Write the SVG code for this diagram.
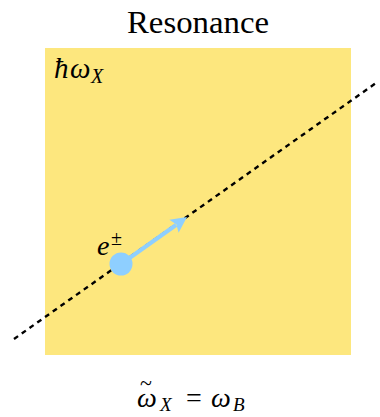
<svg xmlns="http://www.w3.org/2000/svg" width="380" height="417" viewBox="0 0 380 417">
<style>
.m{font-family:"Liberation Serif",serif;font-style:italic;fill:#000}
.r{font-family:"Liberation Serif",serif;font-style:normal;fill:#000}
</style>
<rect width="380" height="417" fill="#fff"/>
<g id="title"><text class="r" x="198" y="33" font-size="31" text-anchor="middle" textLength="142" lengthAdjust="spacingAndGlyphs">Resonance</text></g>
<g id="box">
<rect x="45" y="48" width="306" height="307" fill="#FDE77E"/>
<text class="m" x="54" y="78" font-size="29">ħ<tspan x="70">ω</tspan><tspan x="91" y="83" font-size="20">X</tspan></text>
</g>
<g id="connectors">
<line x1="14" y1="339" x2="376" y2="83" stroke="#000" stroke-width="2.4" stroke-dasharray="5,4.5"/>
<line x1="121" y1="264" x2="176" y2="225" stroke="#8ECFFF" stroke-width="4"/>
<polygon points="187,217 178.6,232.8 176.4,224.6 169.4,219.8" fill="#8ECFFF"/>
</g>
<g id="particle">
<circle cx="121" cy="264" r="11.5" fill="#8ECFFF"/>
<text class="m" x="97" y="255" font-size="28">e<tspan x="111" y="245" font-size="20" font-style="normal">±</tspan></text>
</g>
<g id="caption">
<text class="m" x="137" y="407" font-size="28">ω<tspan x="140" y="390" font-size="22" font-style="normal">~</tspan><tspan x="160" y="411" font-size="19">X</tspan><tspan x="186" y="407" font-style="normal">=</tspan><tspan x="211" y="407">ω</tspan><tspan x="233" y="411" font-size="19">B</tspan></text>
</g>
</svg>
